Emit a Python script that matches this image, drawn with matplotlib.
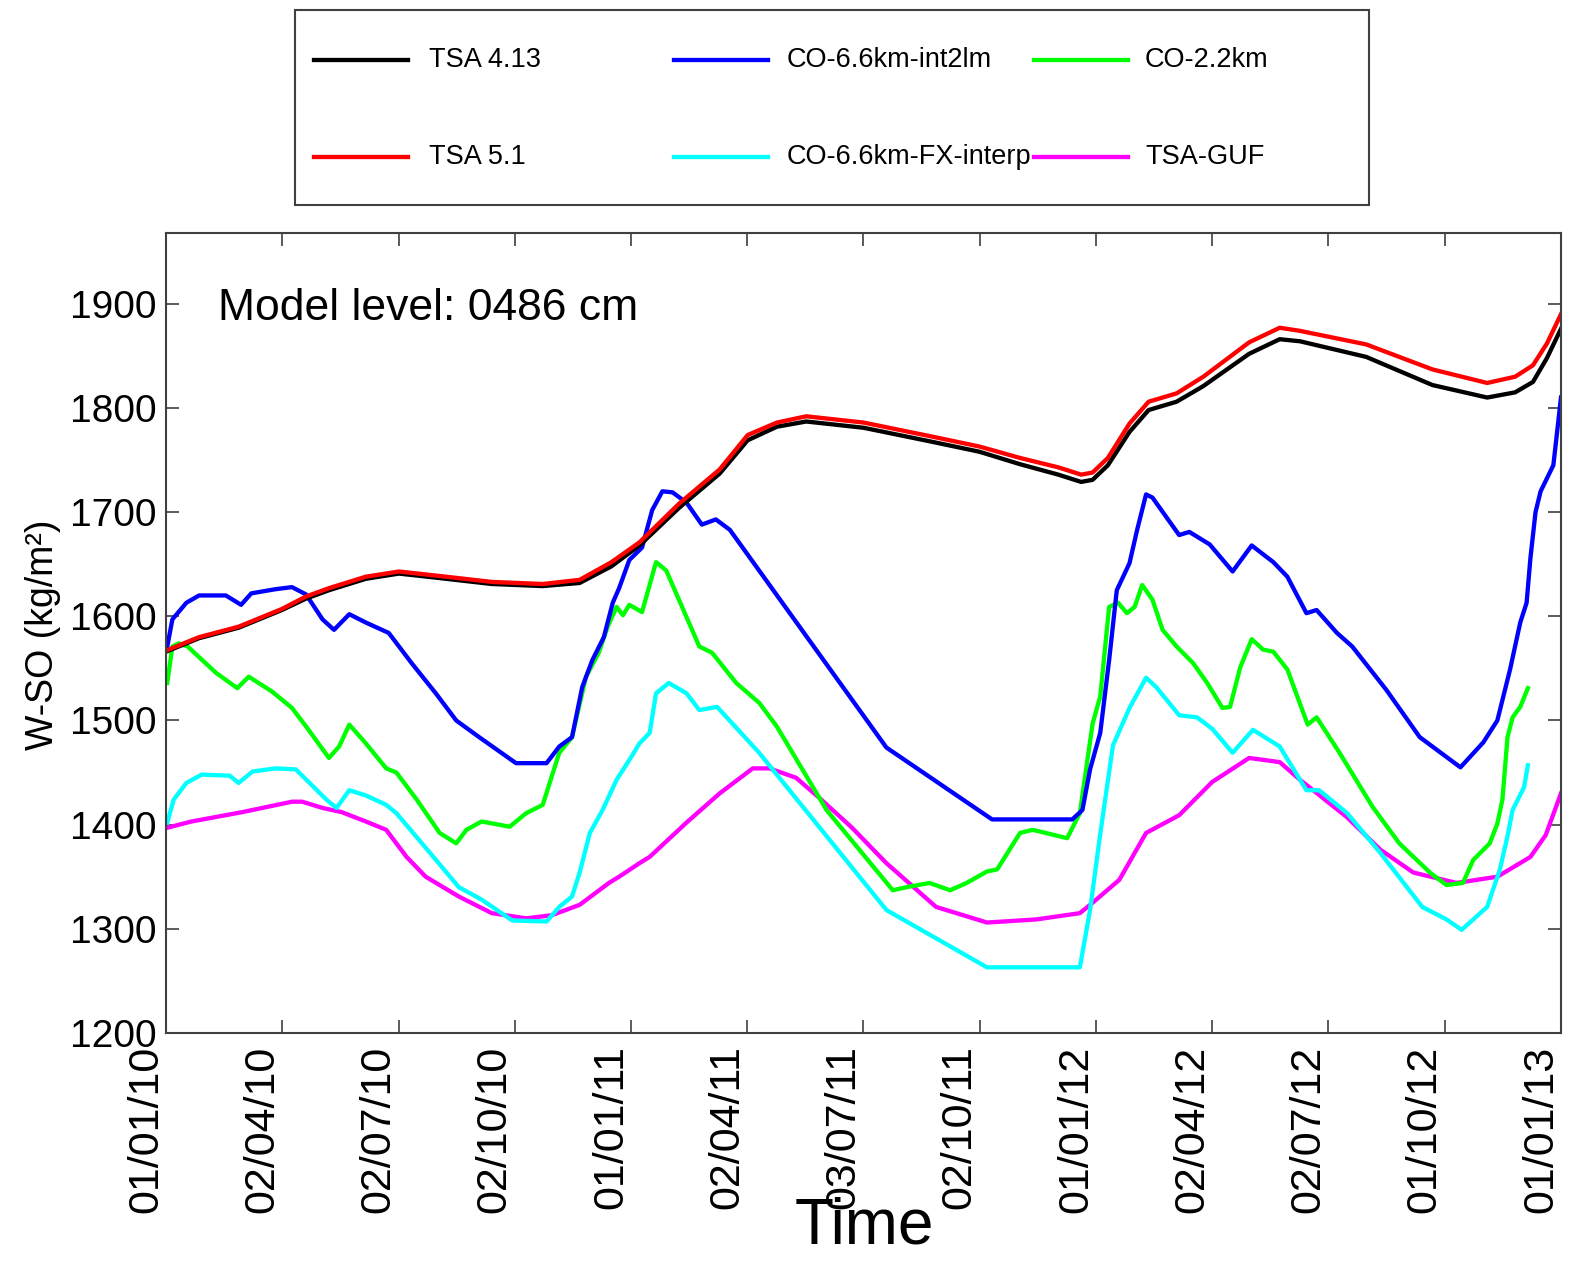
import matplotlib
matplotlib.use('Agg')
import matplotlib.pyplot as plt
from matplotlib.lines import Line2D
from matplotlib.patches import Rectangle
from matplotlib.transforms import ScaledTranslation
import numpy as np

plt.rcParams['font.family'] = ['Liberation Sans', 'DejaVu Sans']

# x axis = days since 01/01/10 (0 .. 1096 = 01/01/13)
tick_labels = ['01/01/10', '02/04/10', '02/07/10', '02/10/10', '01/01/11', '02/04/11',
               '03/07/11', '02/10/11', '01/01/12', '02/04/12', '02/07/12', '01/10/12', '01/01/13']

# TSA 5.1 (red) and TSA 4.13 (black) share the same sample days
tsa_days = [0, 10, 26, 57, 91, 110, 128, 157, 183, 220, 256, 296, 325, 350, 372, 403, 435, 457,
            480, 503, 548, 600, 639, 671, 701, 719, 728, 740, 757, 772, 794, 815, 851, 875, 891,
            943, 995, 1038, 1060, 1074, 1085, 1096]
tsa51 = [1567, 1572, 1580, 1590, 1607, 1619, 1627, 1638, 1643, 1638, 1633, 1631, 1635, 1652, 1671,
         1708, 1741, 1774, 1786, 1792, 1786, 1773, 1763, 1752, 1743, 1736, 1738, 1752, 1785, 1806,
         1814, 1830, 1863, 1877, 1874, 1861, 1837, 1824, 1830, 1841, 1862, 1890]
tsa413 = [1566, 1571, 1579, 1589, 1606, 1617, 1625, 1636, 1641, 1636, 1631, 1629, 1632, 1648, 1668,
          1704, 1737, 1769, 1782, 1787, 1781, 1768, 1758, 1746, 1736, 1729, 1731, 1745, 1777, 1798,
          1806, 1821, 1852, 1866, 1864, 1849, 1822, 1810, 1815, 1825, 1848, 1876]

int2lm_days = [1, 5, 16, 26, 47, 59, 67, 86, 99, 110, 123, 132, 144, 157, 175, 193, 212, 228, 246,
               275, 299, 309, 319, 327, 335, 344, 351, 356, 364, 374, 382, 390, 398, 409, 421, 432,
               443, 566, 649, 712, 720, 726, 734, 741, 747, 757, 763, 770, 775, 796, 804, 820, 838,
               853, 870, 881, 896, 904, 920, 932, 959, 985, 1017, 1035, 1046, 1056, 1064, 1069,
               1072, 1076, 1080, 1086, 1090, 1096]
int2lm = [1571, 1597, 1613, 1620, 1620, 1611, 1622, 1626, 1628, 1621, 1597, 1587, 1602, 1594, 1584,
          1555, 1526, 1500, 1484, 1459, 1459, 1475, 1484, 1532, 1558, 1580, 1613, 1627, 1654, 1666,
          1702, 1720, 1719, 1709, 1688, 1693, 1683, 1474, 1405, 1405, 1414, 1453, 1488, 1558, 1625,
          1651, 1683, 1717, 1714, 1678, 1681, 1669, 1643, 1668, 1652, 1638, 1603, 1606, 1584, 1571,
          1529, 1484, 1455, 1479, 1500, 1549, 1594, 1613, 1656, 1700, 1720, 1735, 1745, 1810]

co22_days = [1, 5, 10, 17, 39, 56, 65, 83, 99, 112, 128, 136, 144, 157, 173, 181, 197, 215, 228,
             236, 248, 270, 283, 296, 303, 309, 319, 330, 340, 347, 354, 359, 364, 374, 385, 393,
             419, 429, 448, 466, 480, 519, 571, 582, 600, 616, 629, 645, 653, 671, 681, 708, 718,
             728, 734, 741, 748, 755, 761, 767, 775, 783, 794, 807, 818, 830, 836, 844, 853, 862,
             870, 881, 897, 904, 922, 948, 969, 993, 1006, 1019, 1027, 1040, 1046, 1050, 1054,
             1058, 1064, 1070]
co22 = [1536, 1571, 1574, 1571, 1546, 1531, 1542, 1528, 1512, 1491, 1464, 1475, 1496, 1478, 1454,
        1450, 1424, 1392, 1382, 1395, 1403, 1398, 1411, 1419, 1446, 1469, 1484, 1542, 1565, 1590,
        1609, 1601, 1611, 1604, 1652, 1644, 1571, 1565, 1536, 1517, 1494, 1414, 1337, 1340, 1344,
        1337, 1344, 1355, 1357, 1392, 1395, 1387, 1411, 1497, 1523, 1609, 1613, 1603, 1609, 1630,
        1616, 1587, 1571, 1555, 1536, 1512, 1513, 1551, 1578, 1568, 1566, 1549, 1496, 1503, 1469,
        1417, 1382, 1354, 1342, 1344, 1366, 1382, 1401, 1424, 1484, 1503, 1513, 1531]

fx_days = [1, 6, 16, 28, 50, 57, 68, 86, 102, 112, 126, 134, 144, 157, 173, 181, 199, 217, 230,
           248, 272, 299, 309, 319, 325, 333, 343, 354, 364, 372, 380, 385, 395, 409, 419, 433,
           466, 566, 645, 718, 726, 734, 744, 757, 770, 778, 796, 810, 822, 838, 854, 875, 885,
           896, 906, 928, 954, 987, 1006, 1018, 1038, 1048, 1054, 1058, 1067, 1070]
fx = [1402, 1424, 1440, 1448, 1447, 1440, 1451, 1454, 1453, 1441, 1424, 1416, 1433, 1428, 1419,
      1411, 1385, 1359, 1340, 1328, 1308, 1307, 1321, 1331, 1354, 1392, 1414, 1443, 1462, 1478,
      1488, 1526, 1536, 1526, 1510, 1513, 1469, 1318, 1263, 1263, 1318, 1391, 1476, 1512, 1541,
      1532, 1505, 1503, 1492, 1469, 1491, 1475, 1455, 1433, 1433, 1411, 1373, 1321, 1309, 1299,
      1321, 1357, 1389, 1414, 1436, 1457]

guf_days = [1, 20, 60, 99, 107, 123, 138, 157, 173, 189, 204, 230, 256, 283, 303, 325, 348, 356,
            372, 380, 409, 435, 461, 474, 495, 513, 539, 566, 605, 645, 684, 718, 728, 749, 770,
            796, 822, 851, 875, 891, 928, 954, 980, 1014, 1046, 1072, 1084, 1096]
guf = [1397, 1403, 1412, 1422, 1422, 1416, 1412, 1403, 1395, 1369, 1350, 1331, 1315, 1310, 1313,
       1323, 1344, 1350, 1363, 1369, 1402, 1430, 1454, 1454, 1445, 1426, 1397, 1363, 1321, 1306,
       1309, 1315, 1325, 1347, 1392, 1409, 1441, 1464, 1460, 1443, 1407, 1376, 1354, 1344, 1350,
       1369, 1390, 1430]

series = [
    ('TSA-GUF', guf_days, guf, '#ff00ff'),
    ('CO-6.6km-FX-interp', fx_days, fx, '#00ffff'),
    ('CO-2.2km', co22_days, co22, '#00ff00'),
    ('CO-6.6km-int2lm', int2lm_days, int2lm, '#0000ff'),
    ('TSA 4.13', tsa_days, tsa413, '#000000'),
    ('TSA 5.1', tsa_days, tsa51, '#ff0000'),
]

fig = plt.figure(figsize=(15.75, 12.62), dpi=100)
ax = fig.add_axes([0.1054, 0.1815, 0.8857, 0.6339])

for name, d, v, c in series:
    ax.plot(d, v, color=c, lw=3.1, label=name)

ax.set_xlim(0, 1096)
ax.set_ylim(1200, 1968)
ax.set_xticks(np.linspace(0, 1096, 13))
ax.set_xticklabels(tick_labels, rotation=90, fontsize=31, ha='right')
# labels sit just left of their tick, as in the original
shift = ScaledTranslation(-3 / 72, 0, fig.dpi_scale_trans)
for lab in ax.get_xticklabels():
    lab.set_transform(lab.get_transform() + shift)
ax.set_yticks(np.arange(1200, 1901, 100))
ax.tick_params(axis='y', labelsize=28, pad=7)
ax.tick_params(axis='x', pad=9)
ax.tick_params(direction='in', length=9.5, width=1.2, color='#404040',
               top=True, right=True)
for sp in ax.spines.values():
    sp.set_color('#404040')
    sp.set_linewidth(1.5)

ax.text(0.0373, 0.891, 'Model level: 0486 cm', transform=ax.transAxes,
        fontsize=32, va='baseline', ha='left')
fig.text(0.5486, 0.015, 'Time', fontsize=46, ha='center', va='baseline')
fig.text(0.027, 0.497, 'W-SO (kg/m²)', fontsize=27, rotation=90,
         ha='center', va='center')

# legend box drawn by hand: fixed-width columns like the original
fig.add_artist(Rectangle((0.1873, 0.8376), 0.6819, 0.1545, transform=fig.transFigure,
                         fill=False, edgecolor='#404040', lw=1.5))
order = ['TSA 4.13', 'TSA 5.1', 'CO-6.6km-int2lm', 'CO-6.6km-FX-interp', 'CO-2.2km', 'TSA-GUF']
colors = {name: c for name, d, v, c in series}
col_x = [(0.1994, 0.2590, 0.2724), (0.4279, 0.4876, 0.4997), (0.6565, 0.7162, 0.7270)]
row_y = [0.9525, 0.8756]
for i, name in enumerate(order):
    x0, x1, xt = col_x[i // 2]
    y = row_y[i % 2]
    fig.add_artist(Line2D([x0, x1], [y, y], transform=fig.transFigure,
                          color=colors[name], lw=3.1))
    fig.text(xt, y, name, fontsize=19.5, va='center', ha='left')

fig.savefig('out.png', dpi=100)
